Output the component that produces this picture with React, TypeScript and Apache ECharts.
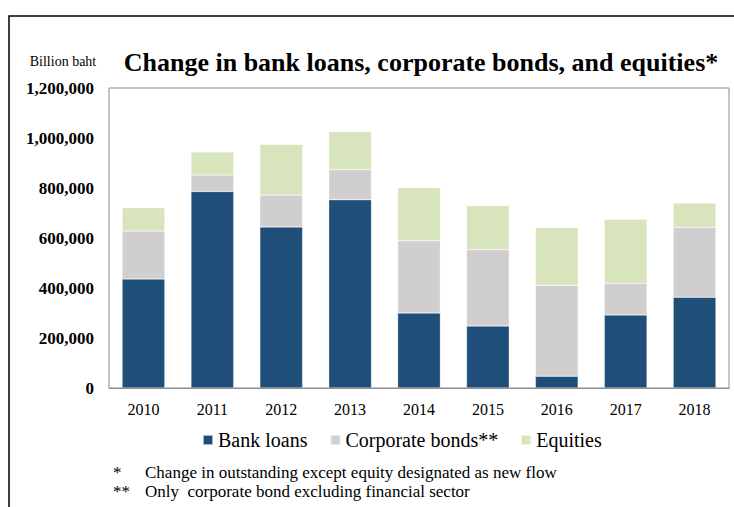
import React, { useEffect, useRef } from "react";
import * as echarts from "echarts";

const years = ["2010", "2011", "2012", "2013", "2014", "2015", "2016", "2017", "2018"];
const bankLoans = [436000, 786000, 644000, 753000, 300000, 248000, 47000, 292000, 363000];
const corporateBonds = [192000, 66000, 128000, 120000, 289000, 305000, 364000, 127000, 280000];
const equities = [93000, 92000, 202000, 153000, 212000, 176000, 230000, 256000, 97000];
const seriesNames = ["Bank loans", "Corporate bonds**", "Equities"];
const footnotes = [
  ["*", "Change in outstanding except equity designated as new flow"],
  ["**", "Only  corporate bond excluding financial sector"],
];

const FONT = "Liberation Serif";

export default function App() {
  const ref = useRef<HTMLDivElement>(null);
  useEffect(() => {
    if (!ref.current) return;
    const chart = echarts.init(ref.current, undefined, { renderer: "svg" });
    const colors = ["#1F4E79", "#D0CECE", "#D8E4BC"];
    const data = [bankLoans, corporateBonds, equities];
    chart.setOption({
      animation: false,
      textStyle: { fontFamily: FONT },
      grid: {
        left: 109,
        top: 88,
        width: 620,
        height: 300,
        show: true,
        borderColor: "#8c8c8c",
        borderWidth: 1,
        containLabel: false,
      },
      legend: {
        left: 202,
        top: 430,
        padding: 0,
        itemWidth: 10,
        itemHeight: 10,
        itemGap: 22,
        icon: "rect",
        textStyle: { fontFamily: FONT, fontSize: 20, color: "#000" },
        data: seriesNames,
      },
      xAxis: {
        type: "category",
        data: years,
        axisLine: { show: true, lineStyle: { color: "#8c8c8c", width: 1 } },
        axisTick: { show: false },
        axisLabel: { fontFamily: FONT, fontSize: 16, color: "#000", margin: 13 },
      },
      yAxis: {
        type: "value",
        min: 0,
        max: 1200000,
        interval: 200000,
        splitLine: { show: false },
        axisLine: { show: false },
        axisTick: { show: false },
        axisLabel: {
          fontFamily: FONT,
          fontSize: 17,
          fontWeight: "bold",
          color: "#000",
          margin: 15,
          formatter: (v: number) => v.toLocaleString("en-US"),
        },
      },
      series: seriesNames.map((name, i) => ({
        name,
        type: "bar",
        stack: "total",
        barWidth: "62%",
        data: data[i],
        itemStyle: { color: colors[i], borderColor: "rgba(255,255,255,0.6)", borderWidth: 0.5 },
      })),
      graphic: [
        {
          type: "rect",
          shape: { x: 9, y: 16, width: 760, height: 520 },
          style: { fill: "none", stroke: "#000", lineWidth: 1.5 },
          silent: true,
        },
        {
          type: "text",
          x: 63,
          y: 61,
          style: {
            text: "Billion baht",
            fontFamily: FONT,
            fontSize: 14,
            fill: "#000",
            align: "center",
            verticalAlign: "middle",
          },
        },
        {
          type: "text",
          x: 421,
          y: 62,
          style: {
            text: "Change in bank loans, corporate bonds, and equities*",
            fontFamily: FONT,
            fontSize: 26,
            fontWeight: "bold",
            fill: "#000",
            align: "center",
            verticalAlign: "middle",
          },
        },
        ...footnotes.flatMap((f, i) => [
          {
            type: "text",
            x: 113,
            y: 472 + i * 19,
            style: { text: f[0], fontFamily: FONT, fontSize: 17, fill: "#000", verticalAlign: "middle" },
          },
          {
            type: "text",
            x: 145,
            y: 472 + i * 19,
            style: { text: f[1], fontFamily: FONT, fontSize: 17, fill: "#000", verticalAlign: "middle" },
          },
        ]),
      ],
    });
    return () => chart.dispose();
  }, []);
  return (
    <div
      ref={ref}
      style={{ position: "fixed", left: 0, top: 0, width: 734, height: 507, background: "#fff" }}
    />
  );
}
